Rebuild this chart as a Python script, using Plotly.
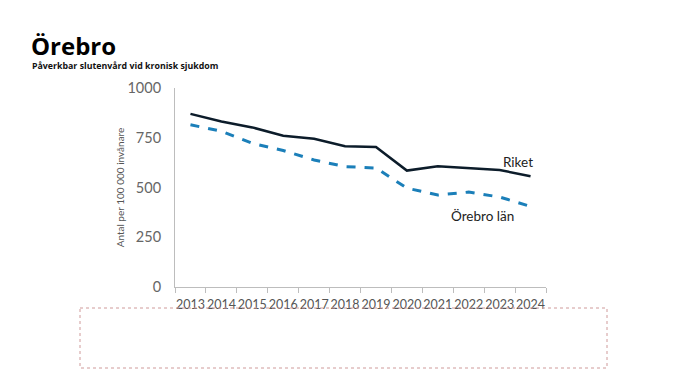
import plotly.graph_objects as go

years = ["2013", "2014", "2015", "2016", "2017", "2018", "2019", "2020", "2021", "2022", "2023", "2024"]
riket = [870, 832, 802, 760, 745, 707, 703, 585, 607, 598, 588, 557]
orebro_lan = [815, 783, 722, 686, 638, 605, 598, 497, 462, 477, 452, 405]
y_ticks = [0, 250, 500, 750, 1000]

OFF = 8  # page body margin
W, H = 690 - OFF, 374 - OFF
L, R, T, B = 175 - OFF, 144, 88 - OFF, 87
pw = W - L - R
ph = H - T - B

def px(x):
    return (x - OFF - L) / pw

def py(y):
    return (H - B - (y - OFF)) / ph

fig = go.Figure()
fig.add_trace(go.Scatter(x=years, y=riket, mode="lines", name="Riket",
                         line=dict(color="#0c1c2a", width=2.5)))
fig.add_trace(go.Scatter(x=years, y=orebro_lan, mode="lines", name="Örebro län",
                         line=dict(color="#1b7fb9", width=3, dash="dash")))

font = "Open Sans, Noto Sans, sans-serif"
tfont = "Lato, Roboto, sans-serif"

fig.update_layout(
    width=W, height=H,
    margin=dict(l=L, r=R, t=T, b=B, autoexpand=False),
    paper_bgcolor="white", plot_bgcolor="white",
    showlegend=False,
    font=dict(family=font, color="#444"),
    xaxis=dict(
        type="category", range=[-0.5, len(years) - 0.5],
        showgrid=False, showline=True, linecolor="#bdbdbd", linewidth=1,
        ticks="outside", tickson="boundaries", ticklen=5, tickcolor="#bdbdbd",
        tickangle=0, automargin=False, ticklabelstandoff=6,
        tickfont=dict(size=12.5, color="#555", family=tfont), zeroline=False,
    ),
    yaxis=dict(
        range=[0, 1000], tickvals=y_ticks, showgrid=False, showline=True,
        linecolor="#bdbdbd", linewidth=1, ticks="", zeroline=False, automargin=False,
        tickfont=dict(size=14.5, color="#666", family=tfont), ticklabelstandoff=10,
        title=dict(text="Antal per 100 000 invånare", font=dict(size=10, color="#555", family=tfont), standoff=0),
    ),
)

fig.add_annotation(x=px(29), y=py(45), xref="paper", yref="paper", text="<b>Örebro</b>",
                   showarrow=False, xanchor="left", yanchor="middle",
                   font=dict(size=24, color="#000", family=font))
fig.add_annotation(x=px(30), y=py(66), xref="paper", yref="paper",
                   text="<b>Påverkbar slutenvård vid kronisk sjukdom</b>",
                   showarrow=False, xanchor="left", yanchor="middle",
                   font=dict(size=8.8, color="#111", family=font))
fig.add_annotation(x=px(518), y=py(162), xref="paper", yref="paper", text="Riket",
                   showarrow=False, xanchor="center", yanchor="middle",
                   font=dict(size=13.5, color="#222", family=tfont))
fig.add_annotation(x=px(482), y=py(216), xref="paper", yref="paper", text="Örebro län",
                   showarrow=False, xanchor="center", yanchor="middle",
                   font=dict(size=13.5, color="#222", family=tfont))

fig.add_shape(type="rect", xref="paper", yref="paper",
              x0=px(80), x1=px(607), y0=py(308), y1=py(368),
              line=dict(color="#cf9a9a", width=1, dash="dot"), fillcolor="rgba(0,0,0,0)")

fig.write_html("out.html")
